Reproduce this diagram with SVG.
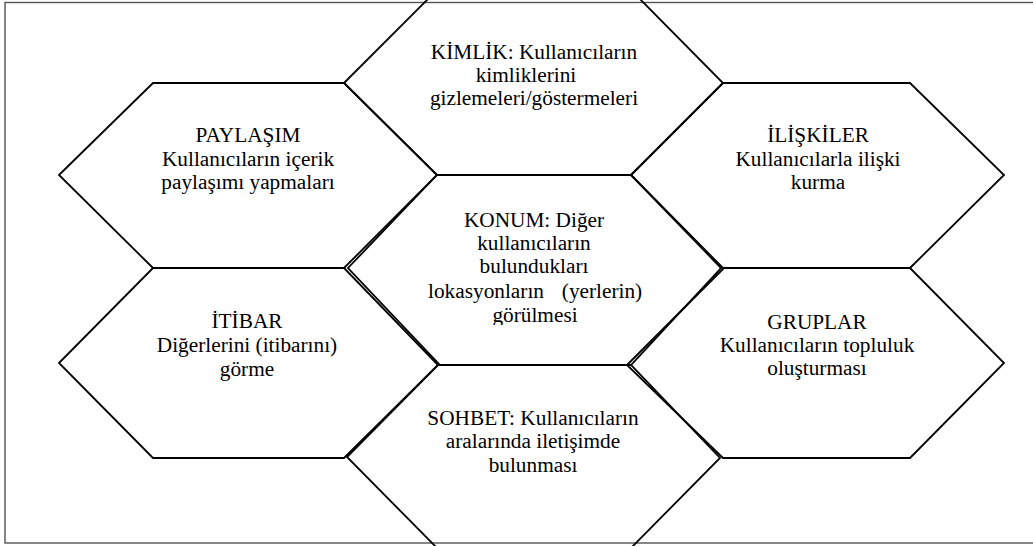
<svg xmlns="http://www.w3.org/2000/svg" width="1033" height="546" viewBox="0 0 1033 546">
<style>
.hex{fill:none;stroke:#000;stroke-width:1.8;stroke-linejoin:miter}
.frame{fill:none;stroke:#555;stroke-width:1.4}
</style>
<defs>
<clipPath id="konumClip"><rect x="340" y="175" width="390" height="150"/></clipPath>
</defs>
<rect x="0" y="0" width="1033" height="546" fill="#fff"/>
<rect class="frame" x="5" y="2.5" width="1040" height="540.5"/>
<g id="kimlik">
<polygon class="hex" points="344,83 437,-10 631,-10 723,83 631,175 437,175"/>
<text font-family="Liberation Serif" font-size="21.3" text-anchor="middle" x="534" y="59">KİMLİK: Kullanıcıların</text>
<text font-family="Liberation Serif" font-size="21.3" text-anchor="middle" x="526" y="82">kimliklerini</text>
<text font-family="Liberation Serif" font-size="21.3" text-anchor="middle" x="534" y="105">gizlemeleri/göstermeleri</text>
</g>
<g id="paylasim">
<polygon class="hex" points="59,175 153,83 344,83 437,175 344,268 153,268"/>
<text font-family="Liberation Serif" font-size="21.3" text-anchor="middle" x="248" y="142">PAYLAŞIM</text>
<text font-family="Liberation Serif" font-size="21.3" text-anchor="middle" x="248" y="166">Kullanıcıların içerik</text>
<text font-family="Liberation Serif" font-size="21.3" text-anchor="middle" x="248" y="189">paylaşımı yapmaları</text>
</g>
<g id="iliskiler">
<polygon class="hex" points="631,175 723,83 910,83 1004,175 910,268 723,268"/>
<text font-family="Liberation Serif" font-size="21.3" text-anchor="middle" x="818" y="142">İLİŞKİLER</text>
<text font-family="Liberation Serif" font-size="21.3" text-anchor="middle" x="818" y="166">Kullanıcılarla ilişki</text>
<text font-family="Liberation Serif" font-size="21.3" text-anchor="middle" x="818" y="189">kurma</text>
</g>
<g id="konum">
<polygon class="hex" points="348,268 437,175 631,175 721,268 631,365 440,365"/>
<g clip-path="url(#konumClip)">
<text font-family="Liberation Serif" font-size="21.3" text-anchor="middle" x="534" y="227">KONUM: Diğer</text>
<text font-family="Liberation Serif" font-size="21.3" text-anchor="middle" x="534" y="250">kullanıcıların</text>
<text font-family="Liberation Serif" font-size="21.3" text-anchor="middle" x="534" y="273">bulundukları</text>
<text font-family="Liberation Serif" font-size="21.3" text-anchor="middle" x="486" y="298">lokasyonların</text>
<text font-family="Liberation Serif" font-size="21.3" text-anchor="middle" x="602" y="298">(yerlerin)</text>
<text font-family="Liberation Serif" font-size="21.3" text-anchor="middle" x="535" y="322">görülmesi</text>
</g>
</g>
<g id="itibar">
<polygon class="hex" points="59,363 153,268 344,268 438,365 344,458 153,458"/>
<text font-family="Liberation Serif" font-size="21.3" text-anchor="middle" x="247" y="328">İTİBAR</text>
<text font-family="Liberation Serif" font-size="21.3" text-anchor="middle" x="247" y="352">Diğerlerini (itibarını)</text>
<text font-family="Liberation Serif" font-size="21.3" text-anchor="middle" x="247" y="376">görme</text>
</g>
<g id="gruplar">
<polygon class="hex" points="627,365 724,268 910,268 1004,363 910,458 723,458"/>
<text font-family="Liberation Serif" font-size="21.3" text-anchor="middle" x="817" y="329">GRUPLAR</text>
<text font-family="Liberation Serif" font-size="21.3" text-anchor="middle" x="817" y="352">Kullanıcıların topluluk</text>
<text font-family="Liberation Serif" font-size="21.3" text-anchor="middle" x="817" y="375">oluşturması</text>
</g>
<g id="sohbet">
<polygon class="hex" points="347,457 438,365 631,365 720,458 628,551 440,551"/>
<text font-family="Liberation Serif" font-size="21.3" text-anchor="middle" x="533" y="425">SOHBET: Kullanıcıların</text>
<text font-family="Liberation Serif" font-size="21.3" text-anchor="middle" x="533" y="448">aralarında iletişimde</text>
<text font-family="Liberation Serif" font-size="21.3" text-anchor="middle" x="533" y="472">bulunması</text>
</g>
</svg>
